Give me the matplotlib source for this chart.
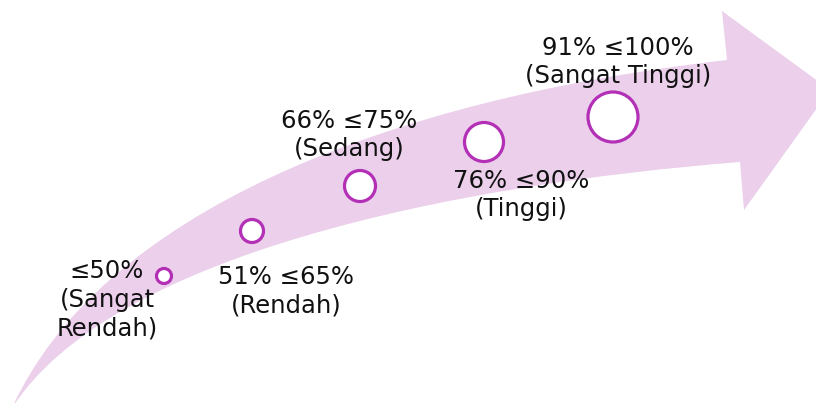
import matplotlib.pyplot as plt
from matplotlib.path import Path
from matplotlib.patches import PathPatch, Circle

plt.rcParams['font.family'] = ['DejaVu Sans']

# levels along the arrow
labels = ["\u226450%\n(Sangat\nRendah)", "51% \u226465%\n(Rendah)", "66% \u226475%\n(Sedang)",
          "76% \u226490%\n(Tinggi)", "91% \u2264100%\n(Sangat Tinggi)"]
circle_x = [164, 252, 360, 484, 613]
circle_y = [276, 231, 186, 142, 117]
circle_r = [7.5, 11.5, 15.5, 19.5, 25]
label_x = [107, 286, 349, 521, 618]
label_y = [300, 291, 135, 195, 62]

arrow_color = "#EBCFEB"
ring_color = "#B22FB6"

fig = plt.figure(figsize=(8.16, 4.03), dpi=100)
ax = fig.add_axes([0, 0, 1, 1])
ax.set_xlim(0, 816)
ax.set_ylim(403, 0)
ax.axis("off")

# curved arrow: upper edge, head, lower edge back to the tail
verts = [(12, 408), (100, 215), (380, 100), (727, 60),
         (722, 11), (830, 90), (744, 210), (740, 162),
         (450, 185), (110, 255), (12, 408)]
codes = [Path.MOVETO, Path.CURVE4, Path.CURVE4, Path.CURVE4,
         Path.LINETO, Path.LINETO, Path.LINETO, Path.LINETO,
         Path.CURVE4, Path.CURVE4, Path.CURVE4]
ax.add_patch(PathPatch(Path(verts, codes), facecolor=arrow_color, edgecolor="none"))

for x, y, r in zip(circle_x, circle_y, circle_r):
    ax.add_patch(Circle((x, y), r, facecolor="white", edgecolor=ring_color, linewidth=2.3))

for lab, x, y in zip(labels, label_x, label_y):
    ax.text(x, y, lab, ha="center", va="center", fontsize=17.5, color="#111111",
            linespacing=1.25)

fig.savefig("out.png", dpi=100)
